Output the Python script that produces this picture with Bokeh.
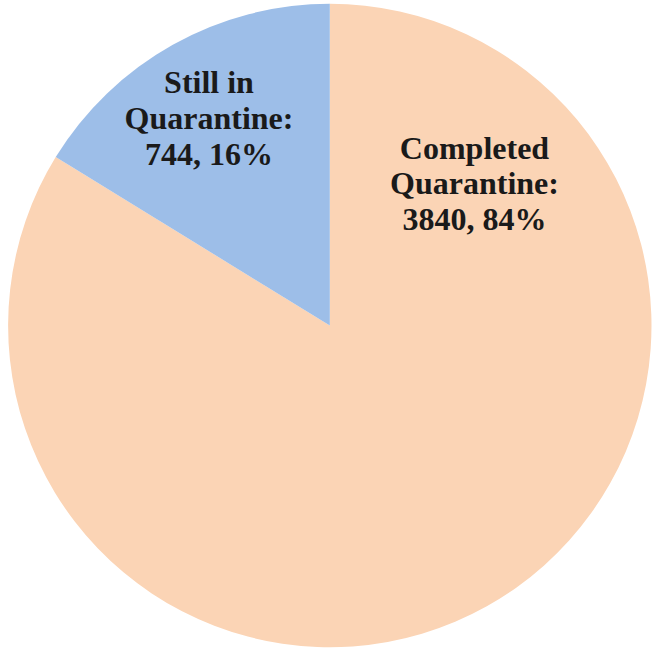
import math
from bokeh.plotting import figure
from bokeh.models import ColumnDataSource
from bokeh.core.properties import value
from bokeh.embed import file_html
from bokeh.resources import INLINE

categories = ["Completed Quarantine", "Still in Quarantine"]
counts = [3840, 744]
percents = ["84%", "16%"]
colors = ["#FBD4B5", "#9DBEE8"]

W, H = 654, 650
p = figure(width=W, height=H, x_range=(0, W), y_range=(0, H),
           output_backend="svg", toolbar_location=None, min_border=0)
p.axis.visible = False
p.grid.visible = False
p.outline_line_color = None
p.background_fill_color = "white"

# positions in page pixels (top-left origin), converted to data y = H - py
cx, cy, r = 329.3, H - 325.0, 321.7
total = sum(counts)
starts, ends = [], []
a = math.pi / 2
for c in counts:
    starts.append(a)
    a = a - 2 * math.pi * c / total
    ends.append(a)

src = ColumnDataSource(dict(start=starts, end=ends, color=colors))
p.wedge(x=cx, y=cy, radius=r, start_angle="start", end_angle="end",
        direction="clock", fill_color="color", line_color=None, source=src)

# labels
label_lines = [
    ["Completed", "Quarantine:", f"{counts[0]}, {percents[0]}"],
    ["Still in", "Quarantine:", f"{counts[1]}, {percents[1]}"],
]
label_pos = [(474, 147), (208.5, 81.5)]
xs, ys, ts = [], [], []
for lines, (lx, ly) in zip(label_lines, label_pos):
    for i, t in enumerate(lines):
        xs.append(lx)
        ys.append(H - (ly + i * 35.8))
        ts.append(t)
p.text(x=xs, y=ys, text=ts, text_align="center", text_baseline="alphabetic",
       text_font=value("Liberation Serif"), text_font_style="bold",
       text_font_size="32px", text_color="#1a1a1a")

open("out.html", "w").write(file_html(p, INLINE))
